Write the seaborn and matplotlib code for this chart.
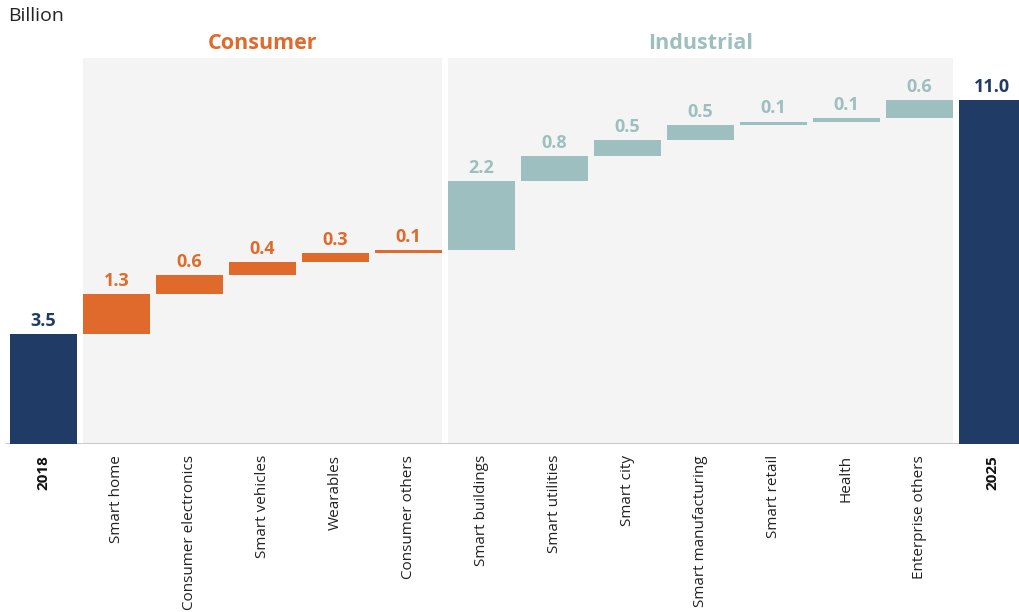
import numpy as np
import pandas as pd
import matplotlib
matplotlib.use("Agg")
import matplotlib.pyplot as plt
from matplotlib.patches import Rectangle
import seaborn as sns

# ---- data -------------------------------------------------------------
categories = ["2018", "Smart home", "Consumer electronics", "Smart vehicles",
              "Wearables", "Consumer others", "Smart buildings", "Smart utilities",
              "Smart city", "Smart manufacturing", "Smart retail", "Health",
              "Enterprise others", "2025"]
start_total = 3.5
end_total = 11.0
consumer_cats = ["Smart home", "Consumer electronics", "Smart vehicles",
                 "Wearables", "Consumer others"]
consumer_vals = [1.3, 0.6, 0.4, 0.3, 0.1]
industrial_cats = ["Smart buildings", "Smart utilities", "Smart city",
                   "Smart manufacturing", "Smart retail", "Health",
                   "Enterprise others"]
industrial_vals = [2.2, 0.8, 0.5, 0.5, 0.1, 0.1, 0.6]

# ---- styling ----------------------------------------------------------
NAVY = "#1f3b66"
ORANGE = "#e06a2c"
TEAL = "#9dbfbf"
PANEL = "#f4f4f4"
BASE = "#c4c4c4"

sns.set_theme(style="white")
plt.rcParams["font.family"] = ["Open Sans", "DejaVu Sans"]

fig = plt.figure(figsize=(10.19, 6.12), dpi=100)
ax = fig.add_axes([0.0, 1 - 444 / 612, 1.0, 444 / 612])

# running bottoms of the floating segments
deltas = consumer_vals + industrial_vals
tops = start_total + np.cumsum(deltas)
bottoms = tops - np.array(deltas)
n_c = len(consumer_vals)

W = 0.92
layers = [
    (["2018", "2025"], [start_total, end_total], [0.0, 0.0], NAVY),
    (consumer_cats, consumer_vals, bottoms[:n_c], ORANGE),
    (industrial_cats, industrial_vals, bottoms[n_c:], TEAL),
]
for cats, vals, bots, col in layers:
    df = pd.DataFrame({"category": cats, "value": vals})
    sns.barplot(data=df, x="category", y="value", order=categories,
                color=col, saturation=1, width=W, bottom=list(bots),
                errorbar=None, zorder=3, linewidth=0, ax=ax)

# group panels
pos = {c: i for i, c in enumerate(categories)}
panel_top = 12.33
for cats, title, col in [(consumer_cats, "Consumer", ORANGE),
                         (industrial_cats, "Industrial", TEAL)]:
    x0 = pos[cats[0]] - W / 2
    x1 = pos[cats[-1]] + W / 2
    ax.add_patch(Rectangle((x0, 0), x1 - x0, panel_top, facecolor=PANEL,
                           edgecolor="none", zorder=0))
    ax.text((x0 + x1) / 2, panel_top + 0.12, title, ha="center", va="bottom",
            fontsize=15.5, fontweight="bold", color=col)

# value labels
labels = [(categories[0], start_total, start_total, NAVY)]
labels += [(c, v, t, ORANGE) for c, v, t in zip(consumer_cats, consumer_vals, tops[:n_c])]
labels += [(c, v, t, TEAL) for c, v, t in zip(industrial_cats, industrial_vals, tops[n_c:])]
labels += [(categories[-1], end_total, end_total, NAVY)]
for c, v, t, col in labels:
    ax.annotate(f"{v:.1f}", (pos[c], t), xytext=(0, 3), textcoords="offset points",
                ha="center", va="bottom", fontsize=13, fontweight="bold",
                color=col, zorder=4)

# baseline
ax.plot([-0.53, 13.5], [0, 0], color=BASE, lw=2, zorder=2, solid_capstyle="butt")

ax.set_xlim(-43.5 / 73, (1019 - 43.5) / 73)
ax.set_ylim(0, 444 / 31.3)
ax.set_xlabel("")
ax.set_ylabel("")
ax.set_yticks([])
for s in ax.spines.values():
    s.set_visible(False)
ax.tick_params(axis="x", length=0, pad=8)
ax.set_xticks(range(len(categories)))
ax.set_xticklabels(categories, rotation=90, va="top", ha="center",
                   fontsize=11, color="#222222")
for lbl in ax.get_xticklabels():
    if lbl.get_text() in ("2018", "2025"):
        lbl.set_fontweight("bold")
        lbl.set_color("#111111")

fig.text(8 / 1019, 1 - 16 / 612, "Billion", ha="left", va="center",
         fontsize=14, color="#222222")

fig.savefig("out.png", dpi=100)
